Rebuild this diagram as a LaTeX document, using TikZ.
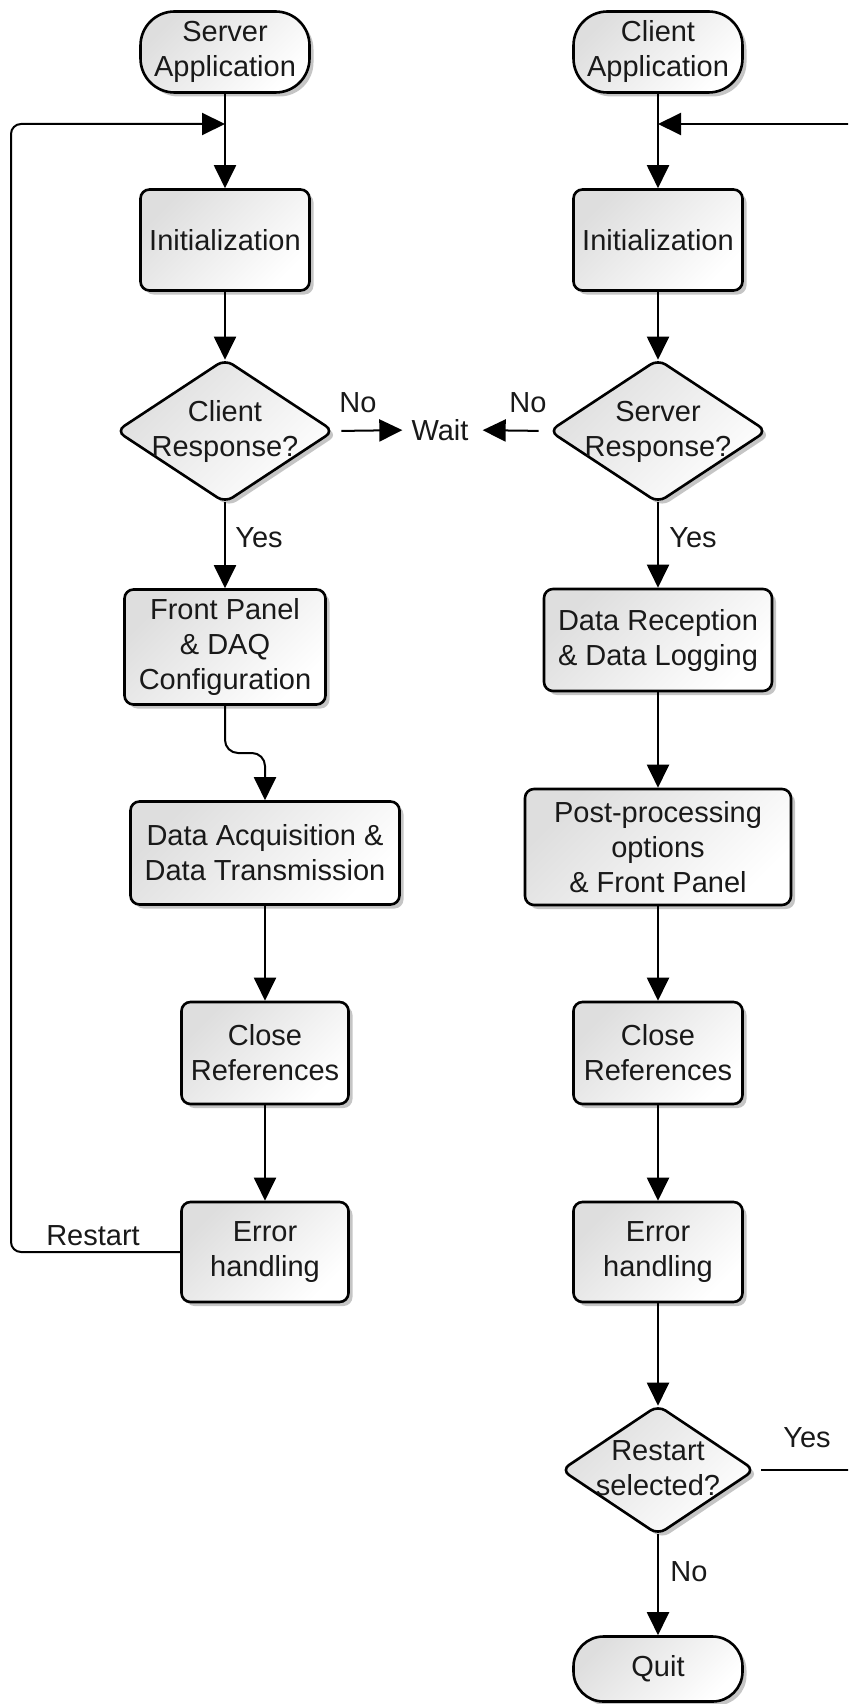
\documentclass[tikz,border=0pt]{standalone}
\usepackage{fontspec}
\setmainfont{Liberation Sans}
\usetikzlibrary{arrows.meta,shapes.geometric,shadows}

% text of zero size, so that a diamond keeps the dimensions it is given
\newcommand\flattext[1]{\smash{\makebox[0pt]{\raisebox{-0.25em}{\begin{tabular}{@{}c@{}}#1\end{tabular}}}}}

\tikzset{
  basefont/.style={font=\fontsize{29}{35}\selectfont, text=black!90},
  boxbase/.style={basefont, draw=black, line width=2.6pt, align=center, inner sep=3pt,
    top color=black!13, bottom color=white, shading angle=45,
    drop shadow={shadow xshift=4pt, shadow yshift=-4pt, fill=black!45, opacity=0.5}},
  procbox/.style={boxbase, rectangle, rounded corners=9pt},
  termbox/.style={boxbase, rectangle, rounded corners=34pt},
  decbox/.style={boxbase, diamond, rounded corners=9pt, inner sep=0pt},
  conn/.style={line width=2pt, -{Triangle[length=23pt,width=22pt]}},
  lbl/.style={basefont, inner sep=0pt},
}

\begin{document}
\begin{tikzpicture}[x=1pt, y=-1pt]
\useasboundingbox (0,0) rectangle (848,1704);
\clip (0,0) rectangle (848,1704);

% ---------- server side ----------
\node[termbox, minimum width=169pt, minimum height=81pt] (sa) at (225,52) {Server\\Application};
\node[procbox, minimum width=169pt, minimum height=101pt] (initL) at (225,240) {Initialization};
\node[decbox, minimum width=218pt, minimum height=144pt] (dL) at (225,431) {\flattext{Client\\Response?}};
\node[procbox, minimum width=201pt, minimum height=115pt] (fp) at (225,647) {Front Panel\\\& DAQ\\Configuration};
\node[procbox, minimum width=269pt, minimum height=103pt] (da) at (265,853) {Data Acquisition \&\\Data Transmission};
\node[procbox, minimum width=167pt, minimum height=102pt] (crL) at (265,1053) {Close\\References};
\node[procbox, minimum width=167pt, minimum height=100pt] (errL) at (265,1252) {Error\\handling};

% ---------- client side ----------
\node[termbox, minimum width=169pt, minimum height=81pt] (ca) at (658,52) {Client\\Application};
\node[procbox, minimum width=169pt, minimum height=101pt] (initR) at (658,240) {Initialization};
\node[decbox, minimum width=218pt, minimum height=144pt] (dR) at (658,431) {\flattext{Server\\Response?}};
\node[procbox, minimum width=228pt, minimum height=102pt] (dr) at (658,640) {Data Reception\\\& Data Logging};
\node[procbox, minimum width=266pt, minimum height=116pt] (pp) at (658,847) {Post-processing\\options\\\& Front Panel};
\node[procbox, minimum width=169pt, minimum height=102pt] (crR) at (658,1053) {Close\\References};
\node[procbox, minimum width=169pt, minimum height=100pt] (errR) at (658,1252) {Error\\handling};
\node[decbox, minimum width=194pt, minimum height=130pt] (rs) at (658,1470) {\flattext{Restart\\selected?}};
\node[termbox, minimum width=169pt, minimum height=65pt, rounded corners=30pt] (quit) at (658,1669) {Quit};

% ---------- shared wait state ----------
\node[lbl] (wait) at (440,430) {Wait};

% ---------- labels ----------
\node[lbl] (noL) at (358,403) {No};
\node[lbl] (noR) at (528,403) {No};
\node[lbl] (yesL) at (259,538) {Yes};
\node[lbl] (yesR) at (693,538) {Yes};
\node[lbl] (restart) at (93,1236) {Restart};
\node[lbl] (yesRs) at (807,1438) {Yes};
\node[lbl] (noRs) at (689,1572) {No};

% ---------- junctions and loop corners ----------
\coordinate (joinL) at (225,124);
\coordinate (joinR) at (658,124);
\coordinate (loopL1) at (11,1252);
\coordinate (loopL2) at (11,124);
\coordinate (loopR1) at (870,1470);
\coordinate (loopR2) at (870,124);
\coordinate (jog) at (265,753);

% ---------- server connectors ----------
\draw[conn] (sa.south) -- (initL.north);
\draw[conn, shorten >=-2pt] (initL.south) -- (dL.north);
\draw[conn, shorten <=6pt, shorten >=9pt] (dL.east) -- (wait.west);
\draw[conn, shorten <=-2pt] (dL.south) -- (fp.north);
\draw[conn, rounded corners=13pt] (fp.south) |- (jog) -- (da.north);
\draw[conn] (da.south) -- (crL.north);
\draw[conn] (crL.south) -- (errL.north);
\draw[conn, rounded corners=10pt] (errL.west) -- (loopL1) -- (loopL2) -- (joinL);

% ---------- client connectors ----------
\draw[conn] (ca.south) -- (initR.north);
\draw[conn, shorten >=-2pt] (initR.south) -- (dR.north);
\draw[conn, shorten <=9pt, shorten >=14pt] (dR.west) -- (wait.east);
\draw[conn, shorten <=-2pt] (dR.south) -- (dr.north);
\draw[conn] (dr.south) -- (pp.north);
\draw[conn] (pp.south) -- (crR.north);
\draw[conn] (crR.south) -- (errR.north);
\draw[conn, shorten >=-2pt] (errR.south) -- (rs.north);
\draw[conn, shorten <=-2pt] (rs.south) -- (quit.north);
\draw[conn, shorten <=5pt] (rs.east) -- (loopR1) -- (loopR2) -- (joinR);
\end{tikzpicture}
\end{document}
